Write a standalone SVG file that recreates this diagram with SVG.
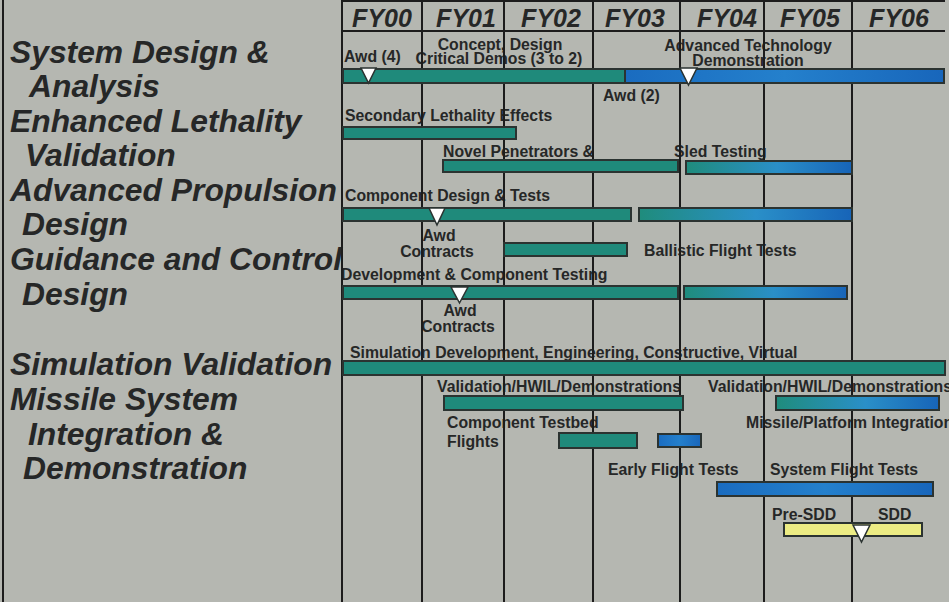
<svg xmlns="http://www.w3.org/2000/svg" width="949" height="602" viewBox="0 0 949 602">
<defs>
<linearGradient id="tb" x1="0" y1="0" x2="1" y2="0">
<stop offset="0" stop-color="#1f8c7c"/>
<stop offset="0.55" stop-color="#2a8fc8"/>
<stop offset="1" stop-color="#1764b8"/>
</linearGradient>
<linearGradient id="bl" x1="0" y1="0" x2="1" y2="0">
<stop offset="0" stop-color="#1a6cc0"/>
<stop offset="0.5" stop-color="#2480cc"/>
<stop offset="1" stop-color="#1866bb"/>
</linearGradient>
<style>
.bg{fill:#b5b7b1}
.row{font-family:"Liberation Sans",Arial,sans-serif;font-weight:bold;font-style:italic;font-size:31.8px;fill:#262727}
.hdr{font-family:"Liberation Sans",Arial,sans-serif;font-weight:bold;font-style:italic;font-size:25px;fill:#262727;text-anchor:middle}
.lbl{font-family:"Liberation Sans",Arial,sans-serif;font-weight:bold;font-size:15.8px;fill:#262727}
.g{stroke:#1c1c1c;stroke-width:2;fill:none}
.teal{fill:#1f8a7b;stroke:#2b3331;stroke-width:2}
.grad{fill:url(#tb);stroke:#2b3331;stroke-width:2}
.blue{fill:url(#bl);stroke:#2b3331;stroke-width:2}
.yel{fill:#ecec84;stroke:#2b3331;stroke-width:2}
.tri{fill:#ffffff;stroke:#2b3331;stroke-width:1.5}
</style>
</defs>
<rect class="bg" x="0" y="0" width="949" height="602"/>

<g id="row-labels">
<text class="row" x="10" y="63">System Design &amp;</text>
<text class="row" x="29" y="97">Analysis</text>
<text class="row" x="10" y="132">Enhanced Lethality</text>
<text class="row" x="25" y="166">Validation</text>
<text class="row" x="10" y="201">Advanced Propulsion</text>
<text class="row" x="22" y="235">Design</text>
<text class="row" x="10" y="270">Guidance and Control</text>
<text class="row" x="22" y="305">Design</text>
<text class="row" x="10" y="375">Simulation Validation</text>
<text class="row" x="10" y="410">Missile System</text>
<text class="row" x="28" y="445">Integration &amp;</text>
<text class="row" x="23" y="479">Demonstration</text>
</g>

<g id="header">
<text class="hdr" x="382" y="27">FY00</text>
<text class="hdr" x="466" y="27">FY01</text>
<text class="hdr" x="551" y="27">FY02</text>
<text class="hdr" x="635" y="27">FY03</text>
<text class="hdr" x="727" y="27">FY04</text>
<text class="hdr" x="810" y="27">FY05</text>
<text class="hdr" x="899" y="27">FY06</text>
</g>

<g id="bar-labels">
<text class="lbl" x="344" y="62">Awd (4)</text>
<text class="lbl" x="500" y="50" text-anchor="middle">Concept, Design</text>
<text class="lbl" x="499" y="64" text-anchor="middle">Critical Demos (3 to 2)</text>
<text class="lbl" x="603" y="101">Awd (2)</text>
<text class="lbl" x="748" y="51" text-anchor="middle">Advanced Technology</text>
<text class="lbl" x="748" y="66" text-anchor="middle">Demonstration</text>
<text class="lbl" x="345" y="121">Secondary Lethality Effects</text>
<text class="lbl" x="443" y="157">Novel Penetrators &amp;</text>
<text class="lbl" x="674" y="157">Sled Testing</text>
<text class="lbl" x="345" y="201">Component Design &amp; Tests</text>
<text class="lbl" x="439" y="241" text-anchor="middle">Awd</text>
<text class="lbl" x="437" y="257" text-anchor="middle">Contracts</text>
<text class="lbl" x="644" y="256">Ballistic Flight Tests</text>
<text class="lbl" x="341" y="280">Development &amp; Component Testing</text>
<text class="lbl" x="460" y="316" text-anchor="middle">Awd</text>
<text class="lbl" x="458" y="332" text-anchor="middle">Contracts</text>
<text class="lbl" x="350" y="358">Simulation Development, Engineering, Constructive, Virtual</text>
<text class="lbl" x="437" y="392">Validation/HWIL/Demonstrations</text>
<text class="lbl" x="708" y="392">Validation/HWIL/Demonstrations</text>
<text class="lbl" x="447" y="428">Component Testbed</text>
<text class="lbl" x="447" y="447">Flights</text>
<text class="lbl" x="746" y="428">Missile/Platform Integration</text>
<text class="lbl" x="608" y="475">Early Flight Tests</text>
<text class="lbl" x="770" y="475">System Flight Tests</text>
<text class="lbl" x="772" y="520">Pre-SDD</text>
<text class="lbl" x="878" y="520">SDD</text>
</g>

<g id="grid">
<line class="g" x1="3" y1="0" x2="3" y2="602"/>
<line class="g" x1="342" y1="1" x2="945" y2="1"/>
<line class="g" x1="342" y1="31" x2="945" y2="31"/>
<line class="g" x1="342" y1="0" x2="342" y2="602"/>
<line class="g" x1="422" y1="0" x2="422" y2="602"/>
<line class="g" x1="504" y1="0" x2="504" y2="602"/>
<line class="g" x1="593" y1="0" x2="593" y2="602"/>
<line class="g" x1="680" y1="0" x2="680" y2="602"/>
<line class="g" x1="764" y1="0" x2="764" y2="602"/>
<line class="g" x1="852" y1="0" x2="852" y2="602"/>
</g>

<g id="bars">
<rect id="sda-concept" class="teal" x="343" y="69" width="282" height="14"/>
<rect id="sda-atd" class="blue" x="625" y="69" width="319" height="14"/>
<rect id="elv-secondary" class="teal" x="343" y="127" width="173" height="12"/>
<rect id="elv-novel" class="teal" x="443" y="160" width="235" height="12"/>
<rect id="elv-sled" class="grad" x="686" y="161" width="166" height="13"/>
<rect id="apd-component" class="teal" x="343" y="208" width="288" height="13"/>
<rect id="apd-component2" class="grad" x="639" y="208" width="213" height="13"/>
<rect id="gcd-ballistic" class="teal" x="504" y="243" width="123" height="13"/>
<rect id="gcd-dev" class="teal" x="343" y="286" width="335" height="13"/>
<rect id="gcd-dev2" class="grad" x="684" y="286" width="163" height="13"/>
<rect id="sim-dev" class="teal" x="343" y="361" width="602" height="14"/>
<rect id="msid-valid1" class="teal" x="444" y="396" width="239" height="14"/>
<rect id="msid-valid2" class="grad" x="776" y="396" width="163" height="14"/>
<rect id="msid-testbed" class="teal" x="559" y="433" width="78" height="15"/>
<rect id="msid-early" class="blue" x="658" y="434" width="43" height="13"/>
<rect id="msid-system" class="blue" x="717" y="482" width="216" height="14"/>
<rect id="msid-sdd" class="yel" x="784" y="523" width="138" height="13"/>
</g>

<g id="milestones">
<polygon class="tri" points="361,68 376,68 368.5,83"/>
<polygon class="tri" points="680,68 697,68 688.5,85"/>
<polygon class="tri" points="429,208 445,208 437,225"/>
<polygon class="tri" points="451,287 468,287 459.5,303"/>
<polygon class="tri" points="853,525 870,525 861.5,542"/>
</g>
</svg>
